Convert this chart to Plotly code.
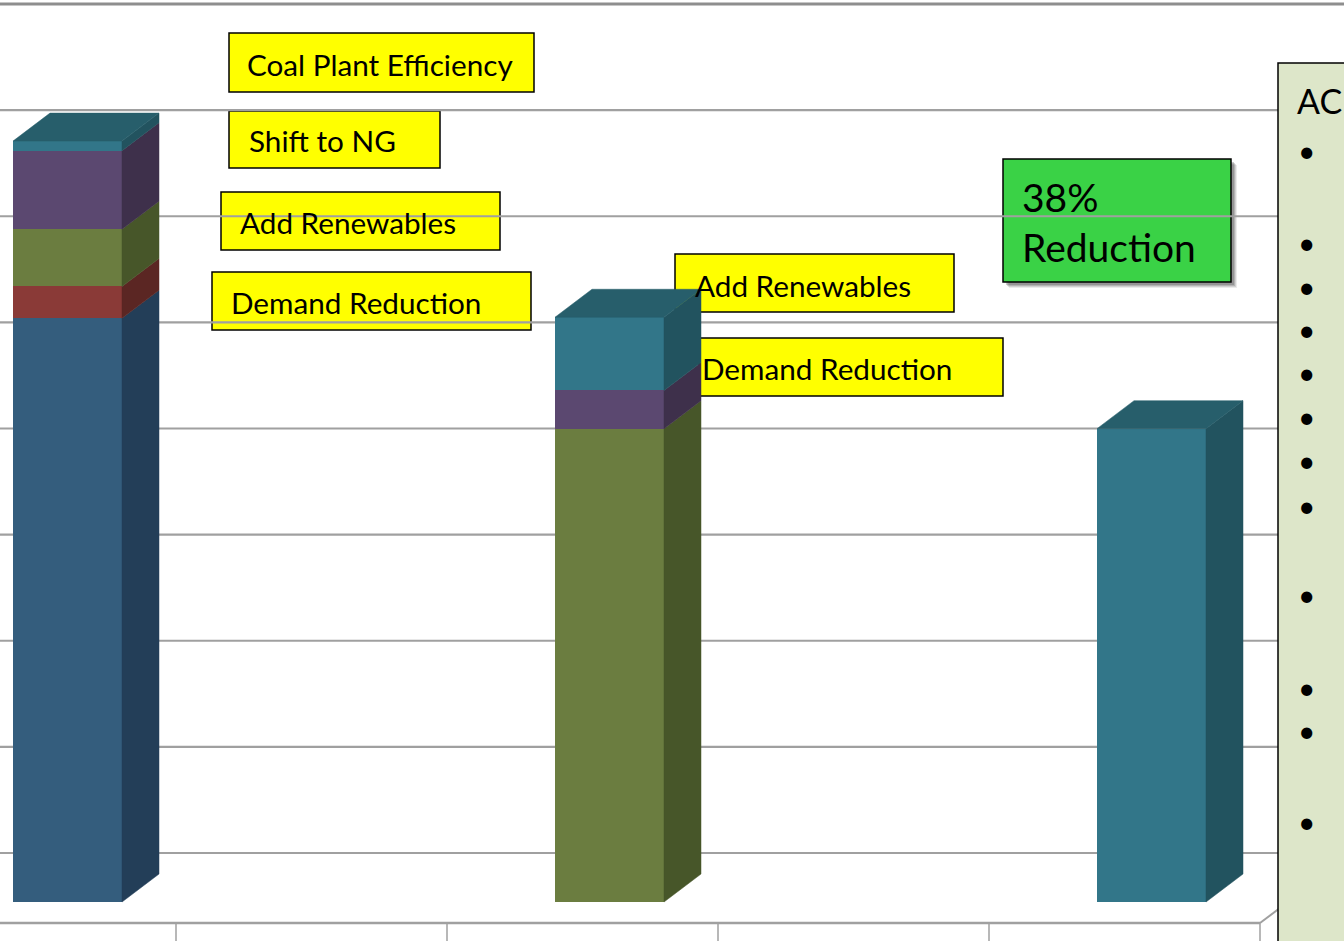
import plotly.graph_objects as go

# ---------------- data ----------------
SLOTS = [0, 2, 4]                       # category slots (of 5) that hold a bar
SERIES_NAMES = ["Series 1", "Series 2", "Series 3", "Series 4", "Series 5"]
S1 = [5.50, 0.00, 0.00]
S2 = [0.30, 0.00, 0.00]
S3 = [0.54, 4.46, 0.00]
S4 = [0.74, 0.36, 0.00]
S5 = [0.09, 0.69, 4.46]
SERIES = [S1, S2, S3, S4, S5]
N_GRID = 9                               # wall gridlines 0..8

LABELS_LEFT = ["Coal Plant Efficiency", "Shift to NG", "Add Renewables", "Demand Reduction"]
LABELS_MID = ["Add Renewables", "Demand Reduction"]
GREEN_LABEL = ["38%", "Reduction"]
PANEL_TITLE = "AC"

# ---------------- style ----------------
FRONT = ["#345D7D", "#8A3A37", "#6B7D40", "#5B4870", "#327689"]
SIDE = ["#233E58", "#5B2623", "#475629", "#3E304B", "#22535F"]
TOP = ["#264660", "#6A2C2A", "#53622F", "#4A3A5C", "#275E6B"]
GRID_COL = "#A0A0A0"
FONT = "Lato"

W, H = 1344, 941
CAT_PX = 271.0
CAT0_PX = 40.5
UNIT_PX = 106.125
ZERO_PX = 902.0

X_RANGE = [(0 - CAT0_PX) / CAT_PX, (W - CAT0_PX) / CAT_PX]
Y_RANGE = [(ZERO_PX - H) / UNIT_PX, ZERO_PX / UNIT_PX]

BAR_W = 109 / CAT_PX
BAR_SHIFT = 27.0 / CAT_PX
DX = 37 / CAT_PX
DY = 28 / UNIT_PX
WALL_OFF = 49 / UNIT_PX
FLOOR_Y = -21 / UNIT_PX
FLOOR_DEPTH_Y = 70 / UNIT_PX
FLOOR_DEPTH_X = 70 * (37 / 28) / CAT_PX


def pxx(px):
    return px / W


def pxy(py):
    return 1 - py / H


fig = go.Figure()

# front faces
xs = [s + BAR_SHIFT for s in SLOTS]
for name, vals, col in zip(SERIES_NAMES, SERIES, FRONT):
    fig.add_trace(go.Bar(x=xs, y=vals, width=BAR_W, name=name,
                         marker=dict(color=col, line=dict(width=0)),
                         showlegend=False, hoverinfo="skip"))

# side and top faces
for i, xc in enumerate(xs):
    xr = xc + BAR_W / 2
    xl = xc - BAR_W / 2
    base = 0.0
    top_idx = None
    for k, vals in enumerate(SERIES):
        v = vals[i]
        if v <= 0:
            continue
        fig.add_trace(go.Scatter(
            x=[xr, xr + DX, xr + DX, xr, xr],
            y=[base, base + DY, base + v + DY, base + v, base],
            fill="toself", fillcolor=SIDE[k], mode="lines",
            line=dict(width=0.5, color=SIDE[k]), showlegend=False, hoverinfo="skip"))
        base += v
        top_idx = k
    fig.add_trace(go.Scatter(
        x=[xl, xl + DX, xr + DX, xr, xl],
        y=[base, base + DY, base + DY, base, base],
        fill="toself", fillcolor=TOP[top_idx], mode="lines",
        line=dict(width=0.5, color=TOP[top_idx]), showlegend=False, hoverinfo="skip"))

shapes = []

# text boxes (below gridlines)
YELLOW_BOXES = [(229, 33, 534, 92), (229, 111, 440, 168), (221, 192, 500, 250),
                (212, 272, 531, 330), (675, 254, 954, 312), (699, 338, 1003, 396)]
for (x0, y0, x1, y1) in YELLOW_BOXES:
    shapes.append(dict(type="rect", xref="paper", yref="paper", layer="below",
                       x0=pxx(x0), x1=pxx(x1), y0=pxy(y0), y1=pxy(y1),
                       fillcolor="#FFFF00", line=dict(color="#000000", width=1.5)))
# green box with soft shadow
for off, op in [(6, 0.10), (5, 0.15), (4, 0.2), (3, 0.25)]:
    shapes.append(dict(type="rect", xref="paper", yref="paper", layer="below",
                       x0=pxx(1003 + off), x1=pxx(1231 + off), y0=pxy(159 + off), y1=pxy(282 + off),
                       fillcolor="rgba(60,60,60,%.2f)" % op, line=dict(width=0)))
shapes.append(dict(type="rect", xref="paper", yref="paper", layer="below",
                   x0=pxx(1003), x1=pxx(1231), y0=pxy(159), y1=pxy(282),
                   fillcolor="#3AD246", line=dict(color="#000000", width=1.5)))

# back-wall gridlines
for k in range(N_GRID):
    yk = k + WALL_OFF
    shapes.append(dict(type="line", xref="x", yref="y", layer="below",
                       x0=X_RANGE[0], x1=X_RANGE[1], y0=yk, y1=yk,
                       line=dict(color="#8E8E8E" if k == N_GRID - 1 else GRID_COL,
                                 width=3 if k == N_GRID - 1 else 2.2)))

# floor front edge, side edge and ticks
shapes.append(dict(type="line", xref="x", yref="y", layer="below",
                   x0=X_RANGE[0], x1=4.5, y0=FLOOR_Y, y1=FLOOR_Y,
                   line=dict(color=GRID_COL, width=2.5)))
shapes.append(dict(type="line", xref="x", yref="y", layer="below",
                   x0=4.5, x1=4.5 + FLOOR_DEPTH_X, y0=FLOOR_Y, y1=FLOOR_Y + FLOOR_DEPTH_Y,
                   line=dict(color=GRID_COL, width=2)))
for t in [0.5, 1.5, 2.5, 3.5, 4.5]:
    shapes.append(dict(type="line", xref="x", yref="y", layer="below",
                       x0=t, x1=t, y0=FLOOR_Y, y1=Y_RANGE[0],
                       line=dict(color=GRID_COL, width=1.5)))

# right side panel
shapes.append(dict(type="rect", xref="paper", yref="paper", layer="above",
                   x0=pxx(1278), x1=pxx(1420), y0=pxy(63), y1=pxy(1000),
                   fillcolor="#DDE6C9", line=dict(color="#000000", width=1.5)))

annotations = []


def label(text, left, baseline, size):
    annotations.append(dict(text=text, xref="paper", yref="paper", showarrow=False,
                            x=pxx(left), y=pxy(baseline + 0.213 * size),
                            xanchor="left", yanchor="bottom", borderpad=0, borderwidth=0,
                            font=dict(family=FONT, size=size, color="#000000")))


BOX_FS = 29.7
for txt, (lx, by) in zip(LABELS_LEFT, [(247, 76), (249, 152), (240, 234), (231, 314)]):
    label(txt, lx, by, BOX_FS)
for txt, (lx, by) in zip(LABELS_MID, [(695, 297), (702, 380)]):
    label(txt, lx, by, BOX_FS)
for txt, (lx, by) in zip(GREEN_LABEL, [(1022, 212), (1022, 262)]):
    label(txt, lx, by, 39)
label(PANEL_TITLE, 1297, 114, 34)

BULLET_Y = [153, 245, 289, 332, 375, 419, 463, 508, 597, 690, 733, 824]
for by in BULLET_Y:
    label("\u2022", 1298, by + 9, 30)

fig.update_layout(
    width=W, height=H, autosize=False,
    margin=dict(l=0, r=0, t=0, b=0, pad=0),
    paper_bgcolor="#FFFFFF", plot_bgcolor="rgba(0,0,0,0)",
    barmode="stack", bargap=0,
    xaxis=dict(range=X_RANGE, visible=False, fixedrange=True),
    yaxis=dict(range=Y_RANGE, visible=False, fixedrange=True),
    shapes=shapes, annotations=annotations, showlegend=False,
)

fig.write_html("out.html", config={"displayModeBar": False})
